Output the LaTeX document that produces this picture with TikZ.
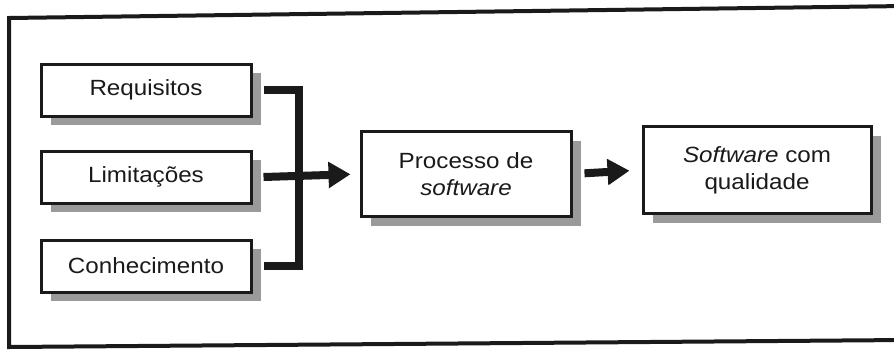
\documentclass[tikz,border=0pt]{standalone}
\usepackage{fontspec}
\setmainfont{Liberation Sans}[FakeStretch=1.1]
\usetikzlibrary{shadows,arrows.meta}
\definecolor{ink}{HTML}{1A1A1A}
\definecolor{shade}{HTML}{9A9A9A}
\tikzset{
  box/.style={draw=ink, line width=3pt, fill=white, text=ink,
    align=center, font=\fontsize{22}{27}\selectfont,
    drop shadow={shadow xshift=10pt, shadow yshift=-9pt, fill=shade, opacity=1}},
  inbox/.style={box, minimum width=210pt, minimum height=52pt},
  bar/.style={draw=ink, line width=8pt},
  fat arrow/.style={bar, -{Triangle[width=25pt,length=22pt]}}
}
\begin{document}
\begin{tikzpicture}[x=1pt,y=-1pt]
  \useasboundingbox (0,0) rectangle (894,349);
  % outer frame
  \draw[ink, line width=4pt] (9,18) -- (905,6) -- (905,340) -- (9,347) -- cycle;
  % inputs
  \node[inbox] (req) at (146,90) {Requisitos};
  \node[inbox] (lim) at (146,177) {Limitações};
  \node[inbox] (con) at (146,266) {Conhecimento};
  % process and result
  \node[box, minimum width=210pt, minimum height=85pt] (proc) at (466,174)
    {Processo de\\\textit{software}};
  \node[box, minimum width=228pt, minimum height=87pt] (res) at (757,170)
    {\textit{Software} com\\qualidade};
  % bracket joining the inputs
  \draw[bar, line cap=butt] (req.east) ++(11,0) -- ++(35,0) coordinate (bt)
    |- ([xshift=11pt]con.east);
  \draw[fat arrow, shorten >=9pt] ([xshift=11pt]lim.east) -- (proc.west);
  \draw[fat arrow, shorten <=12pt, shorten >=12pt] (proc.east) -- (res.west);
\end{tikzpicture}
\end{document}
